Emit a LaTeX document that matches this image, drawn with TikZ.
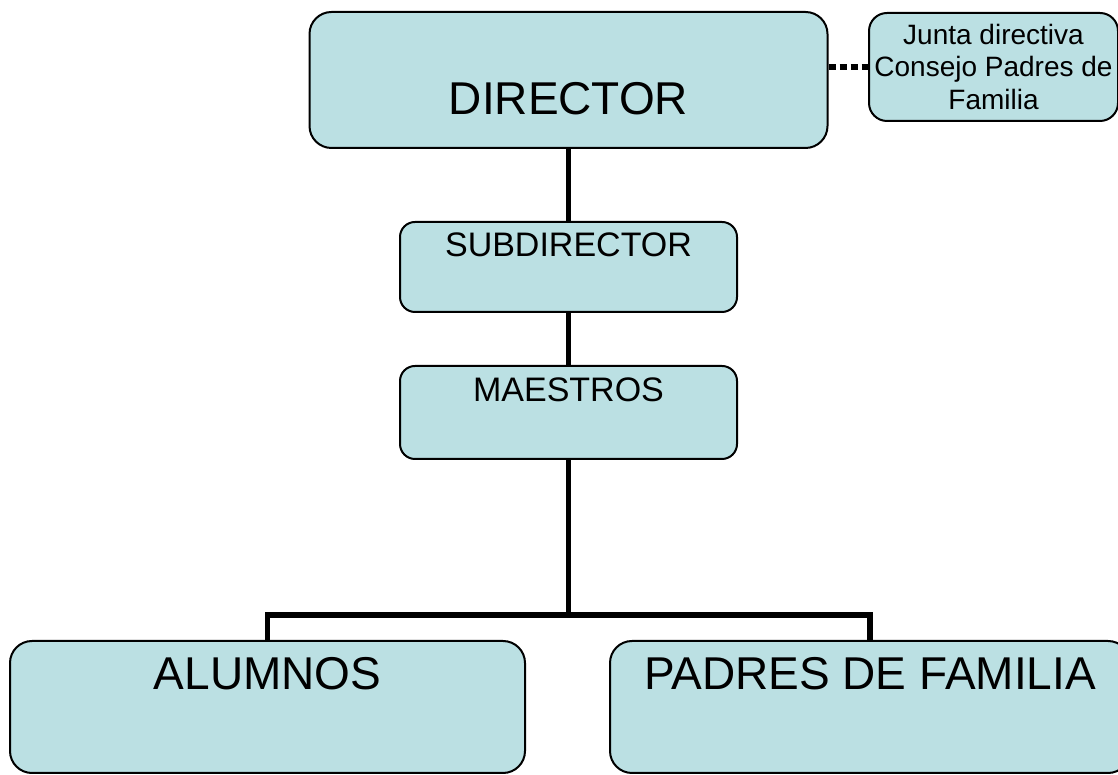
\documentclass[tikz,border=0pt]{standalone}
\usepackage{fontspec}
\setmainfont{Liberation Sans}
\definecolor{boxfill}{RGB}{187,224,227}
\begin{document}
\begin{tikzpicture}[x=0.5pt,y=0.5pt,
  box/.style={draw,line width=1pt,fill=boxfill,inner sep=0pt},
  link/.style={line width=2.75pt},
  dots/.style={line width=3pt,dash pattern=on 3.5pt off 2pt},
  big/.style={font=\fontsize{23}{27.6}\selectfont},
  mid/.style={font=\fontsize{17}{20.4}\selectfont}]
\useasboundingbox(0,0)rectangle(1118,775);
\node[box,minimum width=259pt,minimum height=68pt,rounded corners=11pt,
  label={[big,anchor=base,yshift=-52pt]north:DIRECTOR}](dir) at (568.5,695){};
\node[box,minimum width=124.5pt,minimum height=54pt,rounded corners=9pt,align=center,
  font=\fontsize{14}{16.25}\selectfont](jun) at (993.5,708){Junta directiva\\Consejo Padres de\\Familia};
\node[box,minimum width=168.5pt,minimum height=45pt,rounded corners=7.5pt,
  label={[mid,anchor=base,yshift=-18pt]north:SUBDIRECTOR}](sub) at (568.5,508){};
\node[box,minimum width=168.5pt,minimum height=46.5pt,rounded corners=7.5pt,
  label={[mid,anchor=base,yshift=-18.5pt]north:MAESTROS}](mae) at (568.5,362.5){};
\node[box,minimum width=257.5pt,minimum height=66pt,rounded corners=11pt,
  label={[big,anchor=base,yshift=-25pt]north:ALUMNOS}](alu) at (267.5,68){};
\node[box,minimum width=260pt,minimum height=66pt,rounded corners=11pt,
  label={[big,anchor=base,yshift=-25pt]north:PADRES DE FAMILIA}](pad) at (870,68){};
% lines between the boxes
\draw[dots](jun.west-|dir.east)--(jun.west);
\draw[link](dir)--(sub);
\draw[link](sub)--(mae);
\coordinate(fork) at (568.5,160);
\draw[link](mae)--(fork)-|(alu.north);
\draw[link](fork)-|(pad.north);
\end{tikzpicture}
\end{document}
